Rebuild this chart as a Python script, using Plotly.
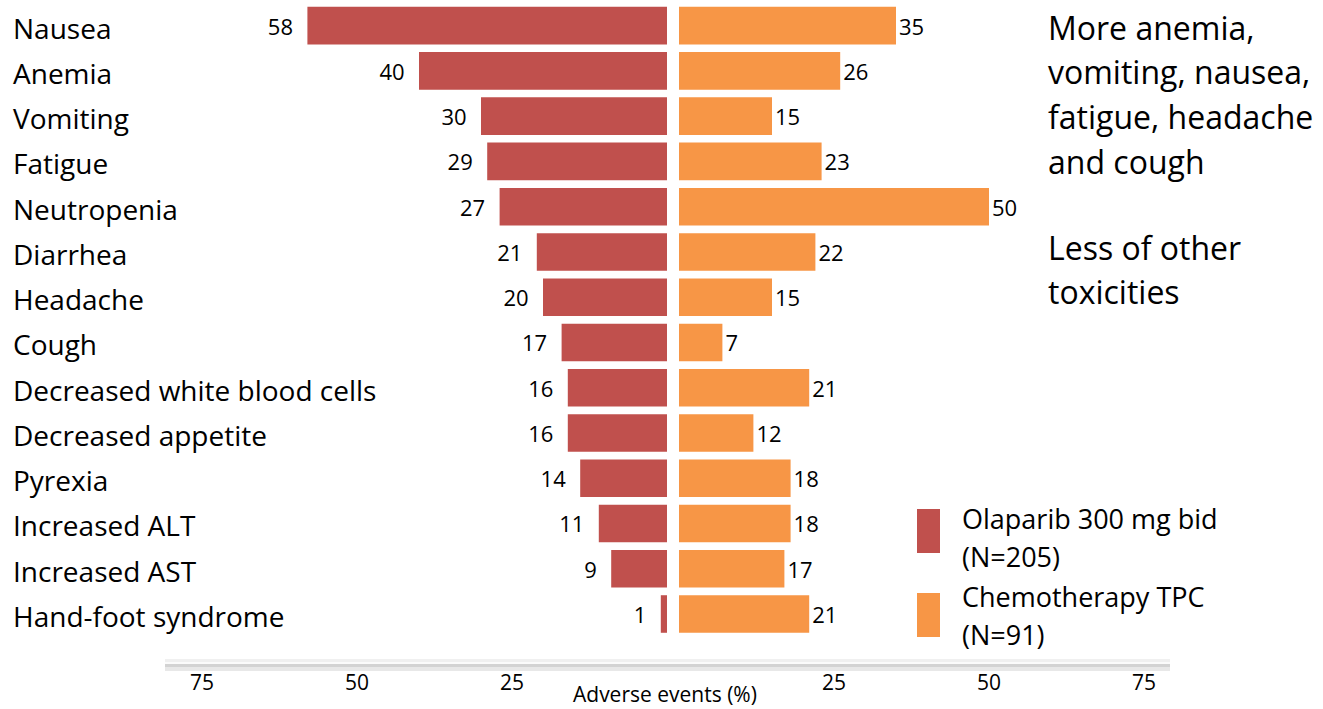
import plotly.graph_objects as go

W, H = 1323, 709

categories = ["Nausea", "Anemia", "Vomiting", "Fatigue", "Neutropenia", "Diarrhea",
              "Headache", "Cough", "Decreased white blood cells", "Decreased appetite",
              "Pyrexia", "Increased ALT", "Increased AST", "Hand-foot syndrome"]
olaparib = [58, 40, 30, 29, 27, 21, 20, 17, 16, 16, 14, 11, 9, 1]
chemo = [35, 26, 15, 23, 50, 22, 15, 7, 21, 12, 18, 18, 17, 21]
tick_vals = [25, 50, 75]
series_lines = [["Olaparib 300 mg bid", "(N=205)"], ["Chemotherapy TPC", "(N=91)"]]
note_top = ["More anemia,", "vomiting, nausea,", "fatigue, headache", "and cough"]
note_bottom = ["Less of other", "toxicities"]
axis_title = "Adverse events (%)"

RED = "#C0504D"
ORANGE = "#F79646"
FONT = "Open Sans"

def px(x):
    return x / W

def py(y):
    return 1 - y / H

SCALE = 6.2  # pixels per percentage point
L0, L1 = 165, 667
R0, R1 = 679, 1170

fig = go.Figure()
fig.add_trace(go.Bar(
    y=categories, x=olaparib, orientation="h", xaxis="x", yaxis="y",
    marker=dict(color=RED, line=dict(width=0)),
    text=[f"{v}\u00a0\u00a0" for v in olaparib], textposition="outside",
    textfont=dict(family=FONT, size=22, color="black"), cliponaxis=False,
    showlegend=False, name="Olaparib"))
fig.add_trace(go.Bar(
    y=categories, x=chemo, orientation="h", xaxis="x2", yaxis="y",
    marker=dict(color=ORANGE, line=dict(width=0)),
    text=[str(v) for v in chemo], textposition="outside",
    textfont=dict(family=FONT, size=22, color="black"), cliponaxis=False,
    showlegend=False, name="Chemotherapy"))

xcommon = dict(tickvals=tick_vals, showgrid=False, zeroline=False, showline=False,
               ticks="", tickfont=dict(family=FONT, size=21, color="black"),
               anchor="free", position=py(668), fixedrange=True)

fig.update_layout(
    width=W, height=H,
    margin=dict(l=0, r=0, t=0, b=0),
    paper_bgcolor="white", plot_bgcolor="white",
    bargap=0.17,
    xaxis=dict(domain=[px(L0), px(L1)], range=[(L1 - L0) / SCALE, 0], **xcommon),
    xaxis2=dict(domain=[px(R0), px(R1)], range=[0, (R1 - R0) / SCALE], **xcommon),
    yaxis=dict(domain=[py(637), py(3)], categoryorder="array",
               categoryarray=categories[::-1], showticklabels=False,
               showgrid=False, zeroline=False, showline=False, ticks="",
               fixedrange=True),
)

annotations = []
for c in categories:
    annotations.append(dict(x=px(11), xref="paper", y=c, yref="y", text=c,
                            showarrow=False, xanchor="left", yanchor="middle", yshift=-2,
                            font=dict(family=FONT, size=28, color="black")))

def add_lines(lines, x, y_first, step, size):
    for i, t in enumerate(lines):
        annotations.append(dict(x=px(x), y=py(y_first + i * step), xref="paper", yref="paper",
                                text=t, showarrow=False, xanchor="left", yanchor="middle",
                                font=dict(family=FONT, size=size, color="black")))

add_lines(note_top, 1046, 27, 44.7, 32)
add_lines(note_bottom, 1046, 247, 44.7, 32)
add_lines(series_lines[0], 960, 518, 38, 27)
add_lines(series_lines[1], 960, 596, 38, 27)

annotations.append(dict(x=px(665), y=py(694), xref="paper", yref="paper", text=axis_title,
                        showarrow=False, xanchor="center", yanchor="middle",
                        font=dict(family=FONT, size=21, color="black")))

shapes = [
    dict(type="rect", xref="paper", yref="paper", x0=px(L0), x1=px(R1), y0=py(662), y1=py(659),
         fillcolor="#f0f0f0", line=dict(width=0), layer="below"),
    dict(type="rect", xref="paper", yref="paper", x0=px(L0), x1=px(R1), y0=py(671), y1=py(664),
         fillcolor="#e8e8e8", line=dict(width=0), layer="below"),
    dict(type="rect", xref="paper", yref="paper", x0=px(L0), x1=px(R1), y0=py(667), y1=py(664),
         fillcolor="#d3d3d3", line=dict(width=0), layer="below"),
    dict(type="line", xref="paper", yref="paper", x0=px(L0), x1=px(R1), y0=py(663), y1=py(663),
         line=dict(color="#fbfbfb", width=2)),
    dict(type="rect", xref="paper", yref="paper", x0=px(917), x1=px(940), y0=py(553), y1=py(509),
         fillcolor=RED, line=dict(width=0)),
    dict(type="rect", xref="paper", yref="paper", x0=px(917), x1=px(940), y0=py(637), y1=py(593),
         fillcolor=ORANGE, line=dict(width=0)),
]
fig.update_layout(annotations=annotations, shapes=shapes)

fig.write_html("out.html")
